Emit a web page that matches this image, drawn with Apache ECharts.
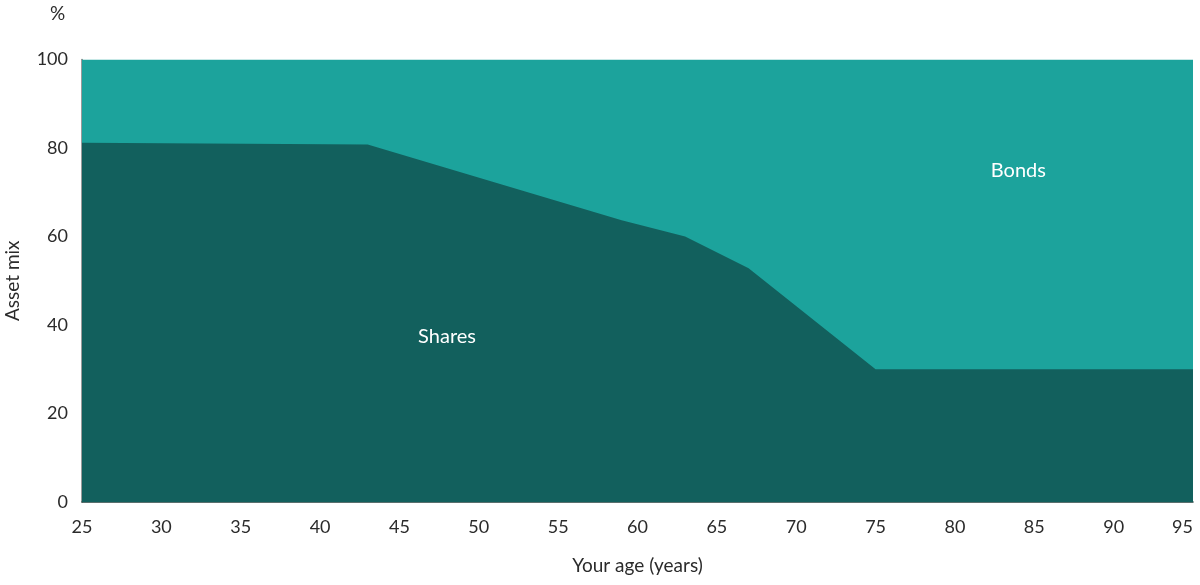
<!DOCTYPE html>
<html>
<head>
    <meta charset="utf-8">
    <title>Asset mix by age</title>
    <script src="https://cdn.jsdelivr.net/npm/echarts@6/dist/echarts.min.js"></script>
    <style>
        html, body { margin: 0; padding: 0; background: #fff; }
        #main { width: 1200px; height: 585px; }
    </style>
</head>
<body>
<div id="main"></div>
<script type="text/javascript">
    // ages where the glide path changes slope
    var ages = [25, 43, 59, 63, 67, 75, 95];
    // % in shares
    var shares = [81.2, 80.8, 63.7, 60.0, 52.8, 30.0, 30.0];
    // % in bonds (rest of the mix)
    var bonds = [18.8, 19.2, 36.3, 40.0, 47.2, 70.0, 70.0];
    var xTicks = [25, 30, 35, 40, 45, 50, 55, 60, 65, 70, 75, 80, 85, 90, 95];
    var yTicks = [0, 20, 40, 60, 80, 100];

    var font = 'Lato, "Noto Sans", sans-serif';
    var textColor = '#2b2b2b';

    // bonds sit on top of shares, so its upper edge is shares + bonds
    var sharesData = ages.map(function (a, i) { return [a, shares[i]]; });
    var totalData = ages.map(function (a, i) { return [a, shares[i] + bonds[i]]; });

    var myChart = echarts.init(document.getElementById('main'));
    myChart.setOption({
        animation: false,
        textStyle: { fontFamily: font },
        grid: { left: 82, right: 7, top: 59.5, bottom: 83, outerBoundsMode: 'none' },
        xAxis: {
            type: 'value',
            min: xTicks[0],
            max: xTicks[xTicks.length - 1],
            interval: 5,
            name: 'Your age (years)',
            nameLocation: 'middle',
            nameGap: 54,
            nameTextStyle: { color: textColor, fontSize: 19, fontFamily: font },
            axisLine: { show: true, lineStyle: { color: '#24403e', width: 1.5 } },
            axisTick: { show: false },
            splitLine: { show: false },
            axisLabel: {
                color: textColor, fontSize: 18, fontFamily: font, margin: 16,
                alignMaxLabel: 'right'
            }
        },
        yAxis: {
            type: 'value',
            min: yTicks[0],
            max: yTicks[yTicks.length - 1],
            interval: 20,
            name: 'Asset mix',
            nameLocation: 'middle',
            nameGap: 60,
            nameRotate: 90,
            nameTextStyle: { color: textColor, fontSize: 19, fontFamily: font },
            axisLine: { show: true, lineStyle: { color: '#7a7a7a', width: 1.5 } },
            axisTick: { show: false },
            splitLine: { show: false },
            axisLabel: { color: textColor, fontSize: 18, fontFamily: font, margin: 14 }
        },
        graphic: [{
            type: 'text',
            left: 50,
            top: 4,
            style: { text: '%', fill: textColor, font: '19px ' + font }
        }],
        series: [{
            name: 'Bonds',
            type: 'line',
            symbol: 'none',
            lineStyle: { width: 0 },
            areaStyle: { color: '#1ca39c', opacity: 1 },
            data: totalData,
            z: 2
        }, {
            name: 'Shares',
            type: 'line',
            symbol: 'none',
            lineStyle: { width: 0 },
            areaStyle: { color: '#12605d', opacity: 1 },
            data: sharesData,
            markPoint: {
                symbol: 'circle',
                symbolSize: 0,
                label: {
                    show: true, position: 'inside', color: '#ffffff',
                    fontSize: 20, fontFamily: font,
                    formatter: function (p) { return p.name; }
                },
                data: [
                    { name: 'Shares', coord: [48, 37.5] },
                    { name: 'Bonds', coord: [84, 74.8] }
                ]
            },
            z: 3
        }]
    });
</script>
</body>
</html>
